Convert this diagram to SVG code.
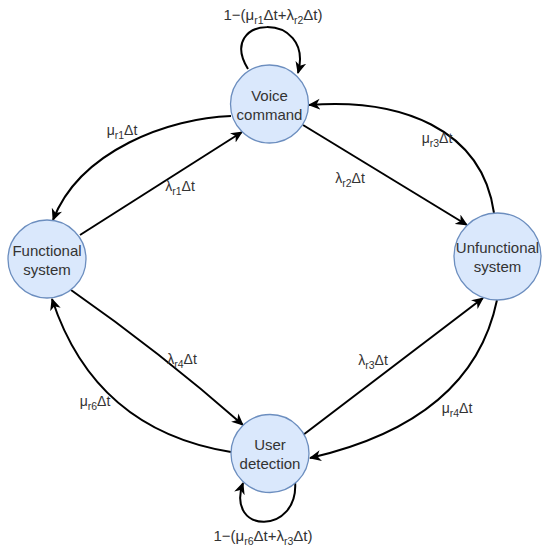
<svg xmlns="http://www.w3.org/2000/svg" width="550" height="554" viewBox="0 0 550 554">
<style>
.node circle{fill:#dae8fc;stroke:#6c8ebf;stroke-width:1.3}
.node text{font-family:"Liberation Sans",Arial,sans-serif;font-size:15px;fill:#333;text-anchor:middle}
.edge path{fill:none;stroke:#000;stroke-width:2;marker-end:url(#arr)}
.lbl{font-family:"Liberation Sans",Arial,sans-serif;font-size:14px;fill:#333;text-anchor:middle}
.big{font-size:15px}
.sub{font-size:10.5px}
</style>
<defs>
<marker id="arr" markerUnits="userSpaceOnUse" markerWidth="14" markerHeight="12" viewBox="0 0 14 12" refX="11" refY="6" orient="auto">
<path d="M0,0.5 L12,6 L0,11.5 L3.5,6 Z" fill="#000"/>
</marker>
</defs>
<rect width="550" height="554" fill="#fff"/>
<g id="connectors" class="edge">
<path d="M248 69 C215 15 315 10 298 73"/>
<path d="M231 116 C170 118 80 150 53 220"/>
<path d="M80 235 L242 132"/>
<path d="M303 125 L467 225"/>
<path d="M494 213 C482 128 400 98 309 105"/>
<path d="M71 290 Q160 352 243 425"/>
<path d="M231 452 Q95 430 52 299"/>
<path d="M303 435 L483 298"/>
<path d="M497 300 Q472 421 310 458"/>
<path d="M295 481 C300 535 225 535 243 483"/>
</g>
<g id="labels">
<text class="lbl big" x="273" y="20">1−(μ<tspan class="sub" dy="4">r1</tspan><tspan dy="-4">Δt+λ</tspan><tspan class="sub" dy="4">r2</tspan><tspan dy="-4">Δt)</tspan></text>
<text class="lbl" x="122" y="135">μ<tspan class="sub" dy="4">r1</tspan><tspan dy="-4">Δt</tspan></text>
<text class="lbl" x="180" y="191">λ<tspan class="sub" dy="4">r1</tspan><tspan dy="-4">Δt</tspan></text>
<text class="lbl" x="350" y="183">λ<tspan class="sub" dy="4">r2</tspan><tspan dy="-4">Δt</tspan></text>
<text class="lbl" x="437" y="143">μ<tspan class="sub" dy="4">r3</tspan><tspan dy="-4">Δt</tspan></text>
<text class="lbl" x="182" y="364">λ<tspan class="sub" dy="4">r4</tspan><tspan dy="-4">Δt</tspan></text>
<text class="lbl" x="95" y="406">μ<tspan class="sub" dy="4">r6</tspan><tspan dy="-4">Δt</tspan></text>
<text class="lbl" x="373" y="365">λ<tspan class="sub" dy="4">r3</tspan><tspan dy="-4">Δt</tspan></text>
<text class="lbl" x="457" y="413">μ<tspan class="sub" dy="4">r4</tspan><tspan dy="-4">Δt</tspan></text>
<text class="lbl big" x="263" y="541">1−(μ<tspan class="sub" dy="4">r6</tspan><tspan dy="-4">Δt+λ</tspan><tspan class="sub" dy="4">r3</tspan><tspan dy="-4">Δt)</tspan></text>
</g>
<g id="voice" class="node"><circle cx="269.5" cy="104" r="39"/><text x="269.5" y="101">Voice</text><text x="269.5" y="120">command</text></g>
<g id="functional" class="node"><circle cx="47" cy="259" r="39"/><text x="47" y="256">Functional</text><text x="47" y="275">system</text></g>
<g id="unfunctional" class="node"><circle cx="497.5" cy="256.5" r="43.5"/><text x="497.5" y="253">Unfunctional</text><text x="497.5" y="272">system</text></g>
<g id="user" class="node"><circle cx="270" cy="453.5" r="39"/><text x="270" y="450">User</text><text x="270" y="469">detection</text></g>
</svg>
